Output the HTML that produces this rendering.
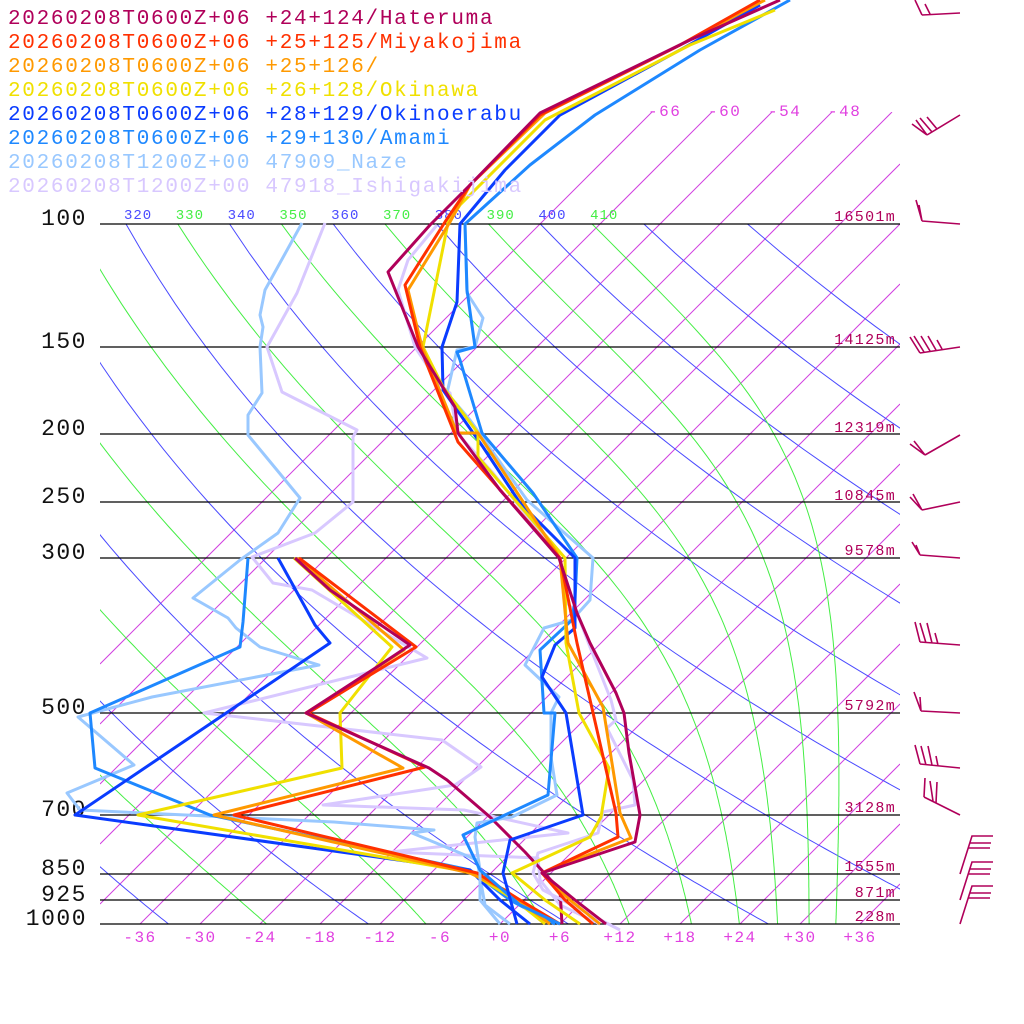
<!DOCTYPE html>
<html><head><meta charset="utf-8"><style>
html,body{margin:0;padding:0;background:#fff;width:1024px;height:1024px;overflow:hidden}
svg{display:block}
text{font-family:"Liberation Mono","DejaVu Sans Mono",monospace}
</style></head><body>
<svg id="s" width="1024" height="1024" viewBox="0 0 1024 1024" xmlns="http://www.w3.org/2000/svg">
<defs>
<clipPath id="cp"><rect x="100" y="224" width="800" height="700"/></clipPath>
<clipPath id="ci"><rect x="100" y="112" width="800" height="812"/></clipPath>
<clipPath id="cl"><rect x="99" y="190" width="700" height="40"/></clipPath>
</defs>
<g id="iso" clip-path="url(#ci)" stroke="#d040e0" stroke-width="1" fill="none"></g>
<g id="dry" clip-path="url(#cp)" stroke="#4a4aff" stroke-width="1" fill="none"></g>
<g id="moist" clip-path="url(#cp)" stroke="#44ee44" stroke-width="1" fill="none"></g>
<g stroke="#000" stroke-width="1.3">
<line x1="100" y1="224" x2="900" y2="224"/><line x1="100" y1="347" x2="900" y2="347"/>
<line x1="100" y1="434" x2="900" y2="434"/><line x1="100" y1="502" x2="900" y2="502"/>
<line x1="100" y1="558" x2="900" y2="558"/><line x1="100" y1="713" x2="900" y2="713"/>
<line x1="100" y1="815" x2="900" y2="815"/><line x1="100" y1="874" x2="900" y2="874"/>
<line x1="100" y1="900" x2="900" y2="900"/><line x1="100" y1="924" x2="900" y2="924"/>
</g>
<g font-size="23" fill="#111" text-anchor="end" letter-spacing="1.5">
<text x="87" y="225">100</text><text x="87" y="348">150</text><text x="87" y="435">200</text>
<text x="87" y="503">250</text><text x="87" y="559">300</text><text x="87" y="714">500</text>
<text x="87" y="816">700</text><text x="87" y="875">850</text><text x="87" y="901">925</text>
<text x="87" y="925">1000</text>
</g>
<g font-size="15" fill="#b0005a" text-anchor="end" letter-spacing="1.3">
<text x="896" y="221">16501m</text><text x="896" y="344">14125m</text><text x="896" y="432">12319m</text>
<text x="896" y="500">10845m</text><text x="896" y="555">9578m</text><text x="896" y="710">5792m</text>
<text x="896" y="812">3128m</text><text x="896" y="871">1555m</text><text x="896" y="897">871m</text>
<text x="896" y="921">228m</text>
</g>
<g id="tlab" font-size="16" fill="#e040e0" text-anchor="middle" letter-spacing="1.5"></g>
<g id="thlab" font-size="14" letter-spacing="1" clip-path="url(#cl)"></g>
<g id="iltop" font-size="16" fill="#e040e0" letter-spacing="1.5"></g>
<g fill="none" stroke-width="3" stroke-linejoin="round">
<polyline stroke="#d8c8ff" points="325,223 297,293 267,347 282,392 357,430 353,437 353,502 315,533 252,557 273,583 312,590 427,658 204,713 442,740 481,767 455,785 323,805 464,810 568,833 390,852 538,858 540,880 560,905 600,924"/>
<polyline stroke="#99c8ff" points="302,223 265,290 260,315 263,327 260,347 262,393 248,415 248,435 300,498 278,533 240,560 193,598 228,618 236,628 260,647 319,665 152,697 78,717 134,765 67,793 80,810 334,822 434,830 412,833 477,860 485,905 510,924"/>
<polyline stroke="#1e88ff" points="248,558 243,622 240,647 90,713 95,768 210,815 470,870 510,900 555,924"/>
<polyline stroke="#0a3cff" points="278,558 315,625 330,643 75,815 470,870 500,900 530,924"/>
<polyline stroke="#f0e000" points="294,558 392,647 340,713 342,768 138,815 470,872 515,900 545,924"/>
<polyline stroke="#ff9900" points="297,558 404,650 306,713 403,768 214,815 470,873 505,890 550,924"/>
<polyline stroke="#ff3000" points="299,558 416,647 308,713 425,767 234,815 477,873 520,900 560,924"/>
<polyline stroke="#b0005a" points="295,558 330,590 410,645 380,665 306,713 429,768 447,780 490,817 525,852 560,890 562,924"/>
<polyline stroke="#d8c8ff" points="437,225 408,260 398,290 415,347 440,385 450,393 457,433 493,473 560,558 564,600 577,613 590,647 611,700 616,720 607,728 633,780 635,805 603,812 598,833 538,853 533,873 543,890 620,930"/>
<polyline stroke="#99c8ff" points="465,227 467,293 483,318 475,347 457,350 447,393 470,420 527,500 593,558 590,600 572,620 544,628 525,665 559,697 551,713 551,757 557,795 512,817 477,823 475,837 480,870 480,900 500,924"/>
<polyline stroke="#1e88ff" points="790,0 700,50 595,115 530,165 465,224 467,290 475,347 457,352 460,360 482,433 533,493 577,558 575,600 572,620 540,650 544,713 555,713 548,795 505,815 463,835 480,870 520,905 560,924"/>
<polyline stroke="#0a3cff" points="760,5 680,50 560,115 505,170 460,224 457,302 442,347 443,390 483,447 520,503 575,558 575,628 555,645 542,677 566,713 583,815 510,840 503,873 517,924"/>
<polyline stroke="#f0e000" points="775,10 690,45 545,120 460,205 448,223 423,347 443,387 478,433 478,457 565,558 566,643 579,713 609,768 601,817 590,837 512,873 545,900 580,924"/>
<polyline stroke="#ff9900" points="765,0 680,45 545,113 470,185 450,222 408,290 422,347 457,433 478,433 560,558 568,643 603,707 620,813 631,838 542,873 570,900 600,924"/>
<polyline stroke="#ff3000" points="760,0 680,45 540,115 470,185 445,222 405,285 420,347 458,442 560,558 577,643 616,813 618,837 542,873 565,900 593,924"/>
<polyline stroke="#b0005a" points="780,0 690,40 540,113 470,185 430,225 388,272 418,347 455,407 458,433 500,490 559,558 577,613 590,643 616,693 624,713 629,753 640,815 635,842 542,873 575,900 606,924"/>
</g>
<g stroke="#b0005a" stroke-width="1.6" fill="none">
<path d="M960,13 L922,15 M922,15 L915,0 M930,14 L925,4"/>
<path d="M960,115 L927,135 M927,135 L912,124 M927,135 L916,120 M932,132 L920,118 M937,129 L927,117"/>
<path d="M960,224 L922,221 M922,221 L916,200 M922,221 L919,205"/>
<path d="M960,347 L920,353 M920,353 L910,337 M924,352 L914,336 M930,351 L921,336 M936,350 L928,336 M942,349 L937,340"/>
<path d="M960,435 L925,455 M925,455 L910,444 M925,455 L914,441"/>
<path d="M960,502 L922,510 M922,510 L910,497 M922,510 L913,494"/>
<path d="M960,558 L920,555 M920,555 L912,542 M920,555 L916,545"/>
<path d="M960,645 L920,642 M920,642 L915,622 M926,643 L920,623 M932,643 L927,623 M938,644 L935,633"/>
<path d="M960,713 L921,711 M921,711 L914,692 M921,711 L920,697"/>
<path d="M960,768 L920,764 M920,764 L915,745 M926,765 L921,746 M932,765 L928,746 M938,766 L936,756"/>
<path d="M960,815 L924,797 M924,797 L925,778 M933,801 L930,781 M936,803 L937,782"/>
<path d="M960,874 L972,836 L993,836 M970,843 L991,843 M968,848 L990,848"/>
<path d="M960,900 L972,862 L993,862 M970,869 L991,869 M968,874 L990,874"/>
<path d="M960,924 L972,886 L993,886 M970,893 L991,893 M968,898 L990,898"/>
</g>
<g font-size="21" letter-spacing="1.7">
<text x="8" y="24" fill="#b0005a">20260208T0600Z+06 +24+124/Hateruma</text>
<text x="8" y="48" fill="#ff3000">20260208T0600Z+06 +25+125/Miyakojima</text>
<text x="8" y="72" fill="#ff9900">20260208T0600Z+06 +25+126/</text>
<text x="8" y="96" fill="#f0e000">20260208T0600Z+06 +26+128/Okinawa</text>
<text x="8" y="120" fill="#0a3cff">20260208T0600Z+06 +28+129/Okinoerabu</text>
<text x="8" y="144" fill="#1e88ff">20260208T0600Z+06 +29+130/Amami</text>
<text x="8" y="168" fill="#99c8ff">20260208T1200Z+00 47909_Naze</text>
<text x="8" y="192" fill="#d8c8ff">20260208T1200Z+00 47918_Ishigakijima</text>
</g>
</svg>
<script>
(function(){
var NS="http://www.w3.org/2000/svg";
function Y(p){return 924-304*Math.log(1000/p);}
function X(T,p){return 500+10*T+304*Math.log(1000/p);}
function add(g,tag,attrs,txt){var e=document.createElementNS(NS,tag);for(var k in attrs)e.setAttribute(k,attrs[k]);if(txt!==undefined)e.textContent=txt;document.getElementById(g).appendChild(e);return e;}
for(var T=-66;T<=36;T+=6){
  var x0=500+10*T, y0=924;
  if(x0<100){y0=924-(100-x0);x0=100;}
  var x1=x0+(y0-112), y1=112;
  if(x1>900){y1=112+(x1-900);x1=900;}
  add("iso","line",{x1:x0,y1:y0,x2:x1,y2:y1});
}
[-66,-60,-54,-48].forEach(function(T){
  var x=500+10*T+(924-112);
  add("iltop","text",{x:x-4,y:116},String(T));
});
for(var T=-36;T<=36;T+=6){
  add("tlab","text",{x:500+10*T,y:942},(T>=0?"+":"")+T);
}
for(var th=200;th<=440;th+=20){
  var d="";
  for(var p=1000;p>=99;p-=10){var Tk=th*Math.pow(p/1000,0.2857)-273.15;d+=(d?"L":"M")+X(Tk,p).toFixed(1)+","+Y(p).toFixed(1);}
  add("dry","path",{d:d});
}
function es(Tc){return 6.112*Math.exp(17.67*Tc/(Tc+243.5));}
for(var th=230;th<=410;th+=20){
  var Tk=th*Math.pow(0.1,0.2857);var p=100;var d="M"+X(Tk-273.15,p).toFixed(1)+","+Y(p).toFixed(1);
  while(p<1000){
    var dp=5;
    var e=es(Tk-273.15);var rs=0.622*e/(p-e);
    var num=287*Tk+2.5e6*rs;var den=1004+(2.5e6*2.5e6*rs*0.622)/(287*Tk*Tk);
    Tk+= (num/den)/p*dp; p+=dp;
    d+="L"+X(Tk-273.15,p).toFixed(1)+","+Y(p).toFixed(1);
  }
  add("moist","path",{d:d});
}
for(var th=310;th<=410;th+=10){
  var Tk=th*Math.pow(0.1,0.2857)-273.15;var x=X(Tk,100)-2;
  add("thlab","text",{x:x,y:219,fill:(th/10)%2==1?"#44ee44":"#4a4aff"},String(th));
}
})();
</script>
</body></html>
